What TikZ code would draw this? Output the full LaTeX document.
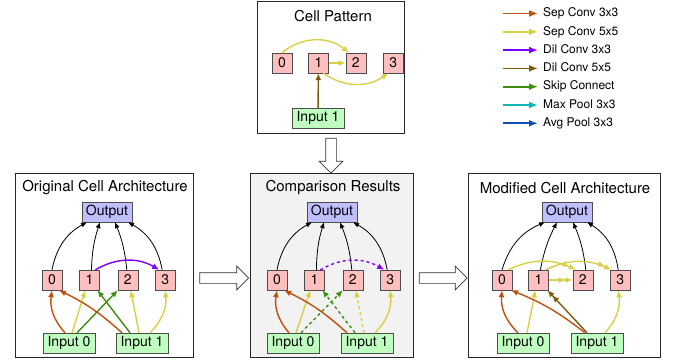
\documentclass[tikz,border=0pt]{standalone}
\usepackage{fontspec}
\setmainfont{TeX Gyre Heros}
\usepackage{xcolor}
\usepackage{tikz}
\usetikzlibrary{arrows.meta, positioning, shapes.arrows}

\definecolor{septhree}{HTML}{C1500C}
\definecolor{sepfive}{HTML}{D9CF45}
\definecolor{dilthree}{HTML}{7F00FF}
\definecolor{dilfive}{HTML}{7F5A0A}
\definecolor{skipc}{HTML}{3D8F0F}
\definecolor{maxpool}{HTML}{12B5B5}
\definecolor{avgpool}{HTML}{0C52B5}
\definecolor{opfill}{HTML}{FFBFBF}
\definecolor{outfill}{HTML}{BFBFFF}
\definecolor{infill}{HTML}{BFFFBF}
\definecolor{cmpfill}{HTML}{F2F2F2}

\begin{document}
\begin{tikzpicture}[
    x=1pt, y=1pt,
    node distance=17pt,
    panel/.style={draw=black!85, line width=0.8pt, inner sep=0pt},
    title/.style={font=\fontsize{15}{17}\selectfont},
    opbox/.style={draw=black!70, fill=opfill, minimum size=20pt, inner sep=0pt, font=\fontsize{14}{16}\selectfont},
    outbox/.style={draw=black!70, fill=outfill, minimum height=20pt, inner xsep=4pt, inner ysep=0pt, font=\fontsize{14}{16}\selectfont},
    inbox/.style={draw=black!70, fill=infill, minimum height=20pt, inner xsep=4.5pt, inner ysep=0pt, font=\fontsize{14}{16}\selectfont},
    edge/.style={-{Latex[length=7pt, width=6pt]}, line width=1.4pt},
    twin/.style={-{Latex[length=7pt, width=6pt]Latex[length=7pt, width=6pt]}, line width=1.4pt},
    toout/.style={-{Latex[length=6pt, width=5pt]}, line width=0.8pt, black},
    legarrow/.style={-{Latex[length=9pt, width=7pt]}, line width=1.8pt},
    legtext/.style={anchor=west, inner sep=0pt, text height=9pt, text depth=2.5pt, font=\fontsize{12}{14}\selectfont},
    blockarr/.style={single arrow, draw=black!80, fill=white, line width=0.7pt, inner xsep=0pt, inner ysep=5pt, single arrow head extend=6.5pt, single arrow head indent=0pt}
]
    \useasboundingbox (0,0) rectangle (683,-362);

    % panels
    \node[panel, minimum width=147pt, minimum height=131.5pt] (pattern) at (330.5,-67.25) {};
    \node[panel, minimum width=178pt, minimum height=184pt] (orig) at (104,-265) {};
    \node[panel, fill=cmpfill, minimum width=163pt, minimum height=184pt] (comp) at (331.5,-265) {};
    \node[panel, minimum width=192pt, minimum height=184pt] (mod) at (564,-265) {};

    \node[title] (pattern-t) at (333,-16) {Cell Pattern};
    \node[title] (orig-t) at (105,-188) {Original Cell Architecture};
    \node[title] (comp-t) at (333,-188) {Comparison Results};
    \node[title] (mod-t) at (565,-188) {Modified Cell Architecture};

    % block arrows
    \path ([yshift=-13pt]orig.east) -- ([yshift=-13pt]comp.west) node[midway, blockarr, minimum height=49pt] (arr1) {};
    \path ([yshift=-13pt]comp.east) -- ([yshift=-13pt]mod.west) node[midway, blockarr, minimum height=48pt] (arr2) {};
    \path (pattern.south) -- (comp.north) node[midway, blockarr, rotate=-90, minimum height=35pt] (arr3) {};

    % cell pattern
    \node[opbox] (p0) at (282,-63) {0};
    \node[opbox, right=16pt of p0] (p1) {1};
    \node[opbox, right=17pt of p1] (p2) {2};
    \node[opbox, right=17pt of p2] (p3) {3};
    \node[inbox] (pin1) at (318,-118) {Input 1};

    \draw[edge, sepfive] (p0.north) to[bend left=40] ([xshift=-7pt]p2.north);
    \draw[edge, sepfive] (p1.east) -- (p2.west);
    \draw[edge, sepfive] ([xshift=5pt]p1.south) to[bend right=35] ([xshift=-5pt]p3.south);
    \draw[edge, dilfive] (pin1) -- (p1);

    % original cell
    \node[outbox] (o-out) at (107,-212) {Output};
    \node[opbox] (o0) at (52,-280) {0};
    \node[opbox, right=of o0] (o1) {1};
    \node[opbox, right=18pt of o1] (o2) {2};
    \node[opbox, right=of o2] (o3) {3};
    \node[inbox] (o-in0) at (69,-343) {Input 0};
    \node[inbox] (o-in1) at (142,-343) {Input 1};

    \draw[toout] (o0.north) to[bend left=25] ([xshift=-20pt]o-out.south);
    \draw[toout] ([xshift=2pt]o1.north) to[bend left=8] ([xshift=-7pt]o-out.south);
    \draw[toout] ([xshift=-1pt]o2.north) to[bend right=8] ([xshift=8pt]o-out.south);
    \draw[toout] ([xshift=-3pt]o3.north) to[bend right=25] ([xshift=21pt]o-out.south);
    \draw[edge, dilthree] ([xshift=6pt]o1.north) to[bend left=30] ([xshift=-6pt]o3.north);

    \draw[edge, septhree] ([xshift=-4pt]o-in0.north) to[bend left=25] (o0.south);
    \draw[edge, sepfive] ([xshift=3pt]o-in0.north) -- ([xshift=-4pt]o1.south);
    \draw[edge, skipc] ([xshift=8pt]o-in0.north) -- ([xshift=-10pt]o2.south);
    \draw[edge, septhree] ([xshift=-20pt]o-in1.north) to[bend right=8] ([xshift=7pt]o0.south);
    \draw[edge, skipc] ([xshift=-12pt]o-in1.north) -- ([xshift=8pt]o1.south);
    \draw[edge, sepfive] ([xshift=-3pt]o-in1.north) -- ([xshift=3pt]o2.south);
    \draw[edge, sepfive] ([xshift=8pt]o-in1.north) to[bend right=25] (o3.south);

    % comparison
    \node[outbox] (c-out) at (332,-212) {Output};
    \node[opbox] (c0) at (277,-280) {0};
    \node[opbox, right=of c0] (c1) {1};
    \node[opbox, right=18pt of c1] (c2) {2};
    \node[opbox, right=of c2] (c3) {3};
    \node[inbox] (c-in0) at (293,-343) {Input 0};
    \node[inbox] (c-in1) at (367,-343) {Input 1};

    \draw[toout] (c0.north) to[bend left=25] ([xshift=-20pt]c-out.south);
    \draw[toout] ([xshift=2pt]c1.north) to[bend left=8] ([xshift=-8pt]c-out.south);
    \draw[toout] ([xshift=-1pt]c2.north) to[bend right=8] ([xshift=8pt]c-out.south);
    \draw[toout] ([xshift=-3pt]c3.north) to[bend right=25] ([xshift=21pt]c-out.south);
    \draw[edge, dilthree, dashed] ([xshift=6pt]c1.north) to[bend left=30] ([xshift=-6pt]c3.north);

    \draw[edge, septhree] ([xshift=-4pt]c-in0.north) to[bend left=25] (c0.south);
    \draw[edge, sepfive] ([xshift=3pt]c-in0.north) -- ([xshift=-4pt]c1.south);
    \draw[edge, skipc, dashed] ([xshift=8pt]c-in0.north) -- ([xshift=-10pt]c2.south);
    \draw[edge, septhree] ([xshift=-20pt]c-in1.north) to[bend right=8] ([xshift=7pt]c0.south);
    \draw[edge, skipc, dashed] ([xshift=-12pt]c-in1.north) -- ([xshift=8pt]c1.south);
    \draw[edge, sepfive, dashed] ([xshift=-3pt]c-in1.north) -- ([xshift=3pt]c2.south);
    \draw[edge, sepfive] ([xshift=8pt]c-in1.north) to[bend right=25] (c3.south);

    % modified cell
    \node[outbox] (m-out) at (567,-212) {Output};
    \node[opbox] (m0) at (502,-280) {0};
    \node[opbox, right=16pt of m0] (m1) {1};
    \node[opbox, right=24pt of m1] (m2) {2};
    \node[opbox, right=of m2] (m3) {3};
    \node[inbox] (m-in0) at (523,-343) {Input 0};
    \node[inbox] (m-in1) at (597,-343) {Input 1};

    \draw[toout] (m0.north) to[bend left=25] ([xshift=-22pt]m-out.south);
    \draw[toout] ([xshift=2pt]m1.north) to[bend left=8] ([xshift=-10pt]m-out.south);
    \draw[toout] ([xshift=3pt]m2.north) to[bend right=8] ([xshift=6pt]m-out.south);
    \draw[toout] ([xshift=-2pt]m3.north) to[bend right=25] ([xshift=20pt]m-out.south);
    \draw[twin, sepfive] ([xshift=6pt]m0.north) to[bend left=25] ([xshift=-7pt]m2.north);
    \draw[twin, sepfive] ([xshift=7pt]m1.north) to[bend left=25] ([xshift=-9pt]m3.north);
    \draw[twin, sepfive] (m1.east) -- (m2.west);

    \draw[edge, septhree] ([xshift=-5pt]m-in0.north) to[bend left=25] (m0.south);
    \draw[edge, sepfive] ([xshift=4pt]m-in0.north) -- ([xshift=-3pt]m1.south);
    \draw[edge, septhree] ([xshift=-12pt]m-in1.north) to[bend right=8] ([xshift=9pt]m0.south);
    \draw[twin, dilfive] ([xshift=-10pt]m-in1.north) -- ([xshift=9pt]m1.south);
    \draw[edge, sepfive] ([xshift=8pt]m-in1.north) to[bend right=25] ([xshift=-2pt]m3.south);

    % legend
    \foreach \col/\txt [count=\i] in {septhree/Sep Conv 3x3, sepfive/Sep Conv 5x5, dilthree/Dil Conv 3x3, dilfive/Dil Conv 5x5, skipc/Skip Connect, maxpool/Max Pool 3x3, avgpool/Avg Pool 3x3} {
        \node[legtext] (leg\i) at (543,{-13.5-18.3*(\i-1)}) {\txt};
        \coordinate (leg\i-s) at (503,{-13.5-18.3*(\i-1)});
        \draw[legarrow, color=\col] (leg\i-s) -- ([xshift=-5pt]leg\i.west);
    }
\end{tikzpicture}
\end{document}
